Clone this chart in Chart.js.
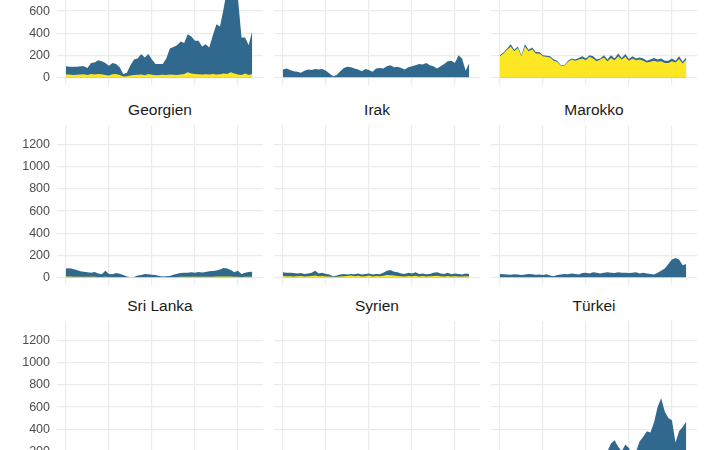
<!DOCTYPE html>
<html><head><meta charset="utf-8">
<script src="https://cdn.jsdelivr.net/npm/chart.js@4"></script>
<style>
body{margin:0;width:708px;height:450px;overflow:hidden;background:#fff;position:relative;font-family:"Liberation Sans",Arial,sans-serif}
.p{position:absolute}
.t{position:absolute;font-size:15.5px;color:#1a1a1a;text-align:center;width:206px}
</style></head><body>
<script>
const months = Array.from({length:53},(_, i)=>i);
const panelNames = ["","","","Georgien","Irak","Marokko","Sri Lanka","Syrien","Türkei"];
const totalA = [100,95,95,95,100,100,85,130,135,155,145,130,105,130,120,90,30,40,110,160,170,210,180,210,160,120,120,120,170,260,275,290,325,310,390,370,330,330,280,300,270,380,480,460,620,800,900,850,720,360,360,290,420];
const yellowA = [25,25,20,22,25,28,20,30,25,30,28,20,15,28,30,20,8,10,15,20,22,25,18,30,22,18,20,22,20,25,22,20,25,30,45,35,30,28,25,28,25,30,25,28,35,30,45,35,25,20,35,20,30];
const totalB = [70,80,65,55,50,40,60,70,65,75,70,75,60,35,10,20,55,85,95,90,80,70,55,75,65,50,80,85,80,100,110,90,95,85,70,90,100,110,120,115,130,110,100,80,100,120,145,150,130,200,170,60,130];
const yellowB = [0,0,0,0,0,0,0,0,0,0,0,0,0,0,0,0,0,0,0,0,0,0,0,0,0,0,0,0,0,0,0,0,0,0,0,0,0,0,0,0,0,0,0,0,0,0,0,0,0,0,0,0,0];
const totalC = [200,225,260,300,250,280,200,300,250,270,230,230,200,195,190,160,150,110,110,150,170,160,175,190,170,200,190,160,170,200,160,200,170,215,175,210,165,190,170,180,170,150,160,175,160,170,150,150,170,150,190,140,180];
const yellowC = [190,215,250,280,235,265,190,280,235,255,215,215,190,185,180,150,140,105,105,140,160,150,160,170,155,185,170,145,160,180,145,175,155,190,160,185,150,170,155,160,150,135,140,150,140,145,130,130,145,135,165,125,160];
const totalD = [80,82,75,65,55,50,45,42,48,35,28,60,30,28,38,32,20,8,0,2,15,20,30,28,24,20,12,8,10,12,22,32,38,40,42,45,42,48,44,48,55,58,62,70,85,80,65,45,60,30,42,48,50];
const yellowD = [6,6,5,5,5,4,4,4,4,3,3,4,3,3,3,3,2,1,0,0,2,2,3,3,3,2,2,1,1,1,2,3,4,4,4,4,4,5,4,5,5,5,6,6,7,6,6,4,5,3,4,4,5];
const totalE = [45,42,40,38,35,38,30,35,40,60,35,40,30,25,8,15,25,30,25,30,28,35,25,30,35,25,30,28,40,60,65,50,45,35,30,40,35,45,30,35,28,30,40,45,35,30,40,28,35,30,25,35,30];
const yellowE = [12,10,10,8,10,12,8,10,12,15,10,12,8,6,2,4,8,10,12,15,10,14,8,10,15,8,12,10,14,20,18,15,12,10,8,12,10,14,8,12,8,10,12,14,10,8,12,8,10,8,6,10,8];
const totalF = [30,28,25,22,28,25,20,25,30,28,22,25,20,28,15,10,20,25,30,28,35,30,25,38,40,35,45,40,35,42,45,40,38,45,40,42,38,40,45,35,40,35,30,25,40,60,80,120,160,175,160,110,120];
const yellowF = totalB.map(()=>0);
const totalG = totalB.map(()=>0);
const totalI = [0,0,0,0,0,0,0,0,0,0,0,0,0,0,0,0,0,0,0,0,0,0,0,0,0,0,0,0,30,120,200,270,300,240,200,260,230,160,200,290,330,380,370,460,600,680,560,500,480,280,380,420,470];
const totals = [totalA,totalB,totalC,totalD,totalE,totalF,totalG,totalG,totalI];
const yellows = [yellowA,yellowB,yellowC,yellowD,yellowE,yellowF,yellowB,yellowB,yellowB];
const yTicks = [0,200,400,600,800,1000,1200];

const colX=[0,274,491], colW=[263,206,206], rowY=[-75,125,321];
for(let k=0;k<9;k++){
  const r=Math.floor(k/3), c=k%3;
  const cv=document.createElement('canvas');
  cv.className='p';
  cv.width=colW[c]; cv.height=160;
  cv.style.left=colX[c]+'px'; cv.style.top=rowY[r]+'px';
  cv.style.width=colW[c]+'px'; cv.style.height='160px';
  document.body.appendChild(cv);
  if(panelNames[k]){
    const t=document.createElement('div'); t.className='t';
    t.textContent=panelNames[k];
    t.style.left=(c===0?57:colX[c])+'px'; t.style.top=(rowY[r]-24)+'px';
    document.body.appendChild(t);
  }
  new Chart(cv,{type:'line',
    data:{labels:months,datasets:[
      {data:months.map((m,i)=>({x:m,y:yellows[k][i]})),fill:'origin',backgroundColor:'#fde725',borderWidth:0,pointRadius:0,tension:0,order:0},
      {data:months.map((m,i)=>({x:m,y:totals[k][i]})),fill:'origin',backgroundColor:'#31688e',borderWidth:0,pointRadius:0,tension:0,order:1}
    ]},
    options:{animation:false,responsive:false,maintainAspectRatio:false,devicePixelRatio:1,
      layout:{padding:0},
      plugins:{legend:{display:false},tooltip:{enabled:false}},
      scales:{
        x:{type:'linear',min:-2.5,max:55,border:{display:false},
          afterBuildTicks:s=>{s.ticks=[0,12,24,36,48].map(v=>({value:v}));},
          ticks:{display:false},grid:{color:'#ebebeb',lineWidth:1.2,drawTicks:false},
          afterFit:s=>{s.height=0;s.paddingLeft=0;s.paddingRight=0;}},
        y:{min:-70,max:1380,border:{display:false},
          afterBuildTicks:s=>{s.ticks=yTicks.map(v=>({value:v}));},
          ticks:{display:c===0,padding:7,color:'#4d4d4d',callback:v=>String(v),font:{size:12.5,family:'"Liberation Sans",Arial'}},
          grid:{color:'#ebebeb',lineWidth:1.2,drawTicks:false},
          afterFit:s=>{s.width=c===0?57:0;s.paddingTop=0;s.paddingBottom=0;}}
      }}});
}
</script>
</body></html>
